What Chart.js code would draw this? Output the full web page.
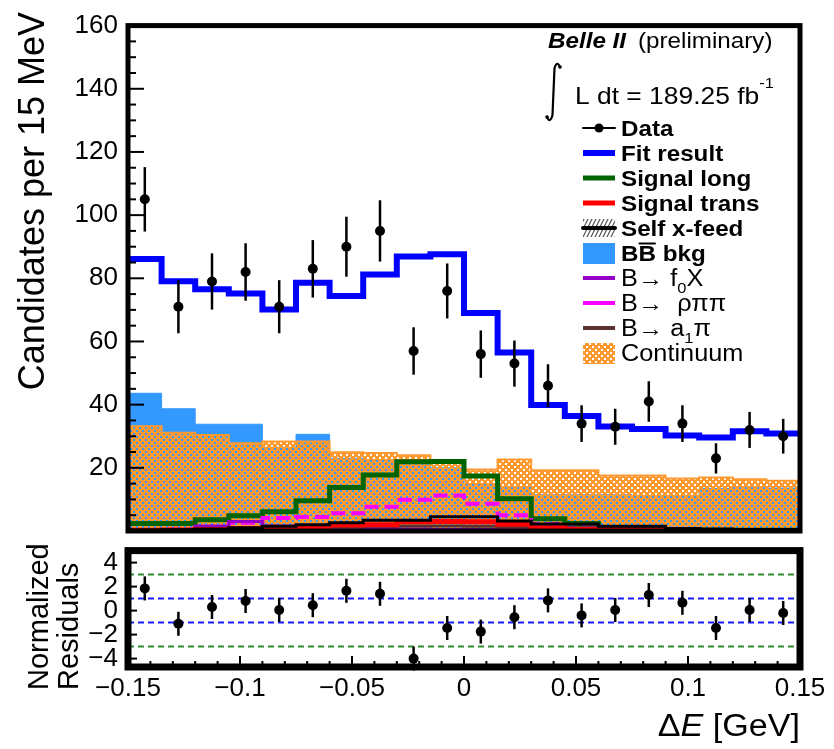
<!DOCTYPE html>
<html>
<head>
<meta charset="utf-8">
<script src="https://cdn.jsdelivr.net/npm/chart.js@4.4.0/dist/chart.umd.min.js"></script>
<style>
  html, body { margin: 0; padding: 0; background: #fff; }
  #wrap { position: relative; width: 834px; height: 749px; overflow: hidden; background: #fff; }
  #wrap canvas { position: absolute; left: 0; }
  #main { top: 0; }
  #resid { top: 525px; }
</style>
</head>
<body>
<div id="wrap">
  <canvas id="main" width="834" height="560"></canvas>
  <canvas id="resid" width="834" height="224"></canvas>
</div>
<script>
// ΔE bins (GeV), 15 MeV wide
const binCenters = [-0.1425, -0.1275, -0.1125, -0.0975, -0.0825, -0.0675, -0.0525, -0.0375, -0.0225, -0.0075,
                     0.0075,  0.0225,  0.0375,  0.0525,  0.0675,  0.0825,  0.0975,  0.1125,  0.1275,  0.1425];

// Candidates per bin and their uncertainties
const dataCounts = [105, 71, 79, 82, 71, 83, 90, 95, 57, 76, 56, 53, 46, 34, 33, 41, 34, 23, 32, 30];
const dataErrors = [10.2, 8.4, 8.9, 9.1, 8.4, 9.1, 9.5, 9.7, 7.5, 8.7, 7.5, 7.3, 6.8, 5.8, 5.7, 6.4, 5.8, 4.8, 5.7, 5.5];

// Fit components
const fitResult   = [86.1, 79.1, 76.5, 75.2, 70.1, 78.6, 74.4, 81.2, 86.9, 87.6, 69.0, 56.5, 39.9, 36.4, 33.1, 32.3, 30.2, 29.6, 31.6, 30.9];
const signalLong  = [2.4, 2.4, 3.6, 4.8, 6.1, 9.6, 13.8, 17.7, 21.9, 22.0, 17.4, 10.2, 3.9, 2.4, 0.8, 0.5, 0.3, 0.2, 0.2, 0.2];
const signalTrans = [0.2, 0.3, 0.5, 0.7, 1.0, 1.1, 1.9, 2.0, 2.9, 3.0, 2.9, 2.1, 1.0, 0.5, 0.3, 0.2, 0.2, 0.1, 0.1, 0.1];
const selfXFeed   = [0.3, 0.4, 0.6, 1.0, 1.5, 2.0, 2.6, 3.4, 3.4, 4.5, 4.5, 3.2, 2.2, 2.2, 1.5, 1.5, 0.8, 0.6, 0.5, 0.5];
const bbBkg       = [43.6, 38.7, 33.8, 33.8, 26.5, 30.6, 23.0, 22.5, 21.0, 20.0, 15.0, 13.8, 11.5, 11.5, 11.5, 11.3, 11.3, 13.5, 13.8, 13.6];
const bToF0X      = [0.3, 0.5, 1.6, 3.0, 1.6, 1.4, 1.2, 0.8, 0.6, 0.5, 0.5, 0.4, 0.3, 0.3, 0.3, 0.3, 0.3, 0.3, 0.3, 0.3];
const bToRhoPiPi  = [0.3, 0.5, 1.0, 2.6, 4.1, 4.4, 5.6, 7.7, 9.9, 11.2, 8.6, 5.0, 2.2, 1.0, 0.5, 0.3, 0.2, 0.2, 0.2, 0.2];
const bToA1Pi     = [0.4, 0.5, 0.6, 0.8, 1.0, 1.1, 1.3, 1.5, 1.6, 1.6, 1.5, 1.3, 1.1, 1.0, 0.8, 0.7, 0.6, 0.5, 0.5, 0.4];
const continuum   = [33.2, 31.1, 30.4, 27.8, 28.3, 28.3, 24.9, 24.7, 24.0, 22.0, 19.5, 22.6, 19.2, 19.2, 17.6, 17.6, 16.6, 16.9, 16.4, 15.9];

// Normalized residuals
const residuals      = [1.85, -1.1, 0.3, 0.8, 0.05, 0.45, 1.65, 1.4, -4.0, -1.45, -1.75, -0.55, 0.85, -0.4, 0.05, 1.3, 0.65, -1.45, 0.05, -0.2];
const residualErrors = [1, 1, 1, 1, 1, 1, 1, 1, 1, 1, 1, 1, 1, 1, 1, 1, 1, 1, 1, 1];
const oneSigmaLevels   = [-1, 1];
const threeSigmaLevels = [-3, 3];

// Axis ticks
const mainYTicks  = [20, 40, 60, 80, 100, 120, 140, 160];
const residYTicks = [-4, -2, 0, 2, 4];
const residXTicks = [-0.15, -0.1, -0.05, 0, 0.05, 0.1, 0.15];

const FONT = '"Liberation Sans", Arial, Helvetica, sans-serif';
const SX = 1.1;   // horizontal text stretch for annotation text

const COL = {
  fit: '#0000ff', sigLong: '#006400', sigTrans: '#ff0000', selfX: '#000000',
  bb: '#3399ff', f0x: '#9400c8', rho: '#ff00ff', a1: '#5c3030', cont: '#ff9a30'
};

// Dotted orange fill used for the continuum component
function makeContinuumPattern(ctx) {
  const c = document.createElement('canvas');
  c.width = 6; c.height = 6;
  const g = c.getContext('2d');
  g.fillStyle = COL.cont;
  g.fillRect(0, 0, 6, 6);
  g.clearRect(1, 1, 2, 2);
  g.clearRect(4, 4, 2, 2);
  return ctx.createPattern(c, 'repeat');
}
const mainCtx = document.getElementById('main').getContext('2d');
const contPattern = makeContinuumPattern(mainCtx);

// Step-histogram points: each value spans its bin to the right edge
function histPoints(values) {
  const half = (binCenters[1] - binCenters[0]) / 2;
  const pts = values.map((v, i) => ({ x: binCenters[i] - half, y: v }));
  pts.push({ x: binCenters[binCenters.length - 1] + half, y: values[values.length - 1] });
  return pts;
}
function hist(label, values, extra) {
  return Object.assign({
    label, data: histPoints(values), stepped: true, pointRadius: 0, fill: false,
    borderJoinStyle: 'miter', borderCapStyle: 'butt'
  }, extra);
}
function pointsOf(values) {
  return values.map((v, i) => ({ x: binCenters[i], y: v }));
}

// Text helpers
function textRun(ctx, x, y, parts) {
  let cx = x;
  for (const p of parts) {
    ctx.save();
    ctx.font = `${p.style || ''} ${p.size}px ${FONT}`;
    ctx.textBaseline = 'alphabetic';
    ctx.textAlign = 'left';
    const w = ctx.measureText(p.t).width * SX;
    ctx.fillStyle = '#000';
    ctx.translate(cx, y + (p.dy || 0));
    ctx.scale(SX, 1);
    ctx.fillText(p.t, 0, 0);
    ctx.restore();
    if (p.over) {
      ctx.save();
      ctx.strokeStyle = '#000'; ctx.lineWidth = 2;
      ctx.beginPath();
      ctx.moveTo(cx + 1, y - p.size * 0.8);
      ctx.lineTo(cx + w - 1, y - p.size * 0.8);
      ctx.stroke();
      ctx.restore();
    }
    cx += w + (p.gap || 0);
  }
  return cx;
}
function textWidth(ctx, parts) {
  let w = 0;
  for (const p of parts) {
    ctx.save();
    ctx.font = `${p.style || ''} ${p.size}px ${FONT}`;
    w += ctx.measureText(p.t).width * SX + (p.gap || 0);
    ctx.restore();
  }
  return w;
}

// Error bars for point datasets carrying an `errors` array
const errorBars = {
  id: 'errorBars',
  afterDatasetDraw(chart, args) {
    const ds = chart.data.datasets[args.index];
    if (!ds.errors) return;
    const { ctx, scales: { x, y } } = chart;
    ctx.save();
    ctx.strokeStyle = '#000';
    ctx.lineWidth = 2.5;
    ds.data.forEach((p, i) => {
      const px = x.getPixelForValue(p.x);
      ctx.beginPath();
      ctx.moveTo(px, y.getPixelForValue(p.y - ds.errors[i]));
      ctx.lineTo(px, y.getPixelForValue(p.y + ds.errors[i]));
      ctx.stroke();
    });
    ctx.restore();
  }
};

// Legend entries of the main panel
const legendRows = [
  { sym: 'data',  parts: [{ t: 'Data', size: 22, style: 'bold' }] },
  { sym: 'line', color: COL.fit, w: 6, parts: [{ t: 'Fit result', size: 22, style: 'bold' }] },
  { sym: 'line', color: COL.sigLong, w: 5, parts: [{ t: 'Signal long', size: 22, style: 'bold' }] },
  { sym: 'line', color: COL.sigTrans, w: 5, parts: [{ t: 'Signal trans', size: 22, style: 'bold' }] },
  { sym: 'hatch', parts: [{ t: 'Self x-feed', size: 22, style: 'bold' }] },
  { sym: 'box', color: COL.bb, parts: [{ t: 'B', size: 22, style: 'bold' }, { t: 'B', size: 22, style: 'bold', over: true }, { t: ' bkg', size: 22, style: 'bold' }] },
  { sym: 'line', color: COL.f0x, w: 4, parts: [{ t: 'B\u2192 f', size: 23 }, { t: '0', size: 15, dy: 7 }, { t: 'X', size: 23 }] },
  { sym: 'line', color: COL.rho, w: 4, parts: [{ t: 'B\u2192  \u03c1\u03c0\u03c0', size: 23 }] },
  { sym: 'line', color: COL.a1, w: 4, parts: [{ t: 'B\u2192 a', size: 23 }, { t: '1', size: 15, dy: 7 }, { t: '\u03c0', size: 23 }] },
  { sym: 'pattern', parts: [{ t: 'Continuum', size: 23 }] }
];

const mainDecor = {
  id: 'mainDecor',
  afterDraw(chart) {
    const { ctx, chartArea: a, scales: { y } } = chart;
    ctx.save();
    // inward ticks on the vertical axis
    ctx.strokeStyle = '#000';
    ctx.lineWidth = 2;
    for (let v = 5; v < 160; v += 5) {
      const py = y.getPixelForValue(v);
      const len = v % 20 === 0 ? 16 : 8;
      ctx.beginPath();
      ctx.moveTo(a.left, py);
      ctx.lineTo(a.left + len, py);
      ctx.stroke();
    }
    // frame
    ctx.lineWidth = 5;
    ctx.strokeRect(a.left, a.top, a.right - a.left, a.bottom - a.top);

    // experiment label
    textRun(ctx, 548, 48, [{ t: 'Belle II', size: 22, style: 'italic bold', gap: 12 }, { t: '(preliminary)', size: 22 }]);

    // integrated luminosity
    ctx.lineWidth = 2.2;
    ctx.lineCap = 'round';
    ctx.beginPath();
    ctx.moveTo(560, 67);
    ctx.quadraticCurveTo(557, 60, 554.5, 68);
    ctx.lineTo(552.5, 115);
    ctx.quadraticCurveTo(550, 124, 547, 117);
    ctx.stroke();
    ctx.beginPath(); ctx.arc(560, 67, 1.8, 0, Math.PI * 2); ctx.fill();
    ctx.beginPath(); ctx.arc(547, 117, 1.8, 0, Math.PI * 2); ctx.fill();
    const endX = textRun(ctx, 575, 104, [{ t: 'L dt = 189.25 fb', size: 24 }]);
    textRun(ctx, endX, 88, [{ t: '-1', size: 15 }]);

    // legend
    const sx0 = 583, sx1 = 615, tx = 621;
    legendRows.forEach((row, i) => {
      const cy = 128 + i * 25;
      ctx.save();
      if (row.sym === 'data') {
        ctx.strokeStyle = '#000'; ctx.lineWidth = 2;
        ctx.beginPath(); ctx.moveTo(sx0, cy); ctx.lineTo(sx1, cy); ctx.stroke();
        ctx.fillStyle = '#000';
        ctx.beginPath(); ctx.arc((sx0 + sx1) / 2, cy, 4.5, 0, Math.PI * 2); ctx.fill();
      } else if (row.sym === 'line') {
        ctx.strokeStyle = row.color; ctx.lineWidth = row.w; ctx.lineCap = 'butt';
        ctx.beginPath(); ctx.moveTo(sx0, cy); ctx.lineTo(sx1, cy); ctx.stroke();
      } else if (row.sym === 'box') {
        ctx.fillStyle = row.color;
        ctx.fillRect(sx0, cy - 10, sx1 - sx0, 21);
      } else if (row.sym === 'pattern') {
        ctx.fillStyle = contPattern;
        ctx.fillRect(sx0, cy - 10, sx1 - sx0, 21);
      } else if (row.sym === 'hatch') {
        ctx.save();
        ctx.beginPath(); ctx.rect(sx0, cy - 9, sx1 - sx0, 18); ctx.clip();
        ctx.strokeStyle = '#555'; ctx.lineWidth = 1.2;
        for (let k = -20; k < 40; k += 4) {
          ctx.beginPath(); ctx.moveTo(sx0 + k, cy + 9); ctx.lineTo(sx0 + k + 9, cy - 9); ctx.stroke();
        }
        ctx.restore();
        ctx.strokeStyle = '#000'; ctx.lineWidth = 4;
        ctx.beginPath(); ctx.moveTo(sx0, cy); ctx.lineTo(sx1, cy); ctx.stroke();
      }
      ctx.restore();
      textRun(ctx, tx, cy + 8, row.parts);
    });

    // vertical axis title
    ctx.save();
    ctx.translate(44, 12);
    ctx.rotate(-Math.PI / 2);
    ctx.font = `36px ${FONT}`;
    ctx.fillStyle = '#000';
    ctx.textAlign = 'right';
    ctx.textBaseline = 'alphabetic';
    ctx.fillText('Candidates per 15 MeV', 0, 0);
    ctx.restore();
    ctx.restore();
  }
};

const residDecor = {
  id: 'residDecor',
  afterDraw(chart) {
    const { ctx, chartArea: a, scales: { x, y } } = chart;
    ctx.save();
    ctx.strokeStyle = '#000';
    ctx.lineWidth = 2;
    residYTicks.forEach(v => {
      const py = y.getPixelForValue(v);
      ctx.beginPath(); ctx.moveTo(a.left, py); ctx.lineTo(a.left + 9, py); ctx.stroke();
    });
    for (let k = -14; k <= 14; k++) {
      const v = k / 100;
      const px = x.getPixelForValue(v);
      const len = k % 5 === 0 ? 11 : 6;
      ctx.beginPath(); ctx.moveTo(px, a.bottom); ctx.lineTo(px, a.bottom - len); ctx.stroke();
    }
    ctx.lineWidth = 7;
    ctx.strokeRect(a.left, a.top, a.right - a.left, a.bottom - a.top);

    // axis titles
    ctx.fillStyle = '#000';
    ctx.textBaseline = 'alphabetic';
    ctx.textAlign = 'left';
    ctx.font = `29px ${FONT}`;
    const baseY = 690 - 525;
    [['Normalized', 48], ['Residuals', 78]].forEach(([t, bx]) => {
      ctx.save();
      ctx.translate(bx, baseY);
      ctx.rotate(-Math.PI / 2);
      ctx.fillText(t, 0, 0);
      ctx.restore();
    });

    const parts = [{ t: '\u0394', size: 31 }, { t: 'E', size: 31, style: 'italic' }, { t: ' [GeV]', size: 31 }];
    const w = textWidth(ctx, parts);
    textRun(ctx, 800 - w, 736 - 525, parts);
    ctx.restore();
  }
};

const baseOptions = {
  responsive: false,
  animation: false,
  events: [],
  plugins: { legend: { display: false }, tooltip: { enabled: false } }
};

new Chart(mainCtx, {
  type: 'line',
  data: {
    datasets: [
      { label: 'Data', data: pointsOf(dataCounts), errors: dataErrors, showLine: false,
        pointRadius: 5, pointBackgroundColor: '#000', pointBorderColor: '#000', pointBorderWidth: 0, order: 0 },
      hist('Fit result', fitResult, { borderColor: COL.fit, borderWidth: 6, order: 1 }),
      hist('Self x-feed', selfXFeed, { borderColor: COL.selfX, borderWidth: 3, order: 2 }),
      hist('Signal trans', signalTrans, { borderColor: COL.sigTrans, borderWidth: 5, order: 3 }),
      hist('B\u2192 a1\u03c0', bToA1Pi, { borderColor: COL.a1, borderWidth: 3, order: 4 }),
      hist('B\u2192 f0X', bToF0X, { borderColor: COL.f0x, borderWidth: 3, order: 5 }),
      hist('B\u2192 \u03c1\u03c0\u03c0', bToRhoPiPi, { borderColor: COL.rho, borderWidth: 4, borderDash: [14, 6], order: 6 }),
      hist('Signal long', signalLong, { borderColor: COL.sigLong, borderWidth: 5, order: 7 }),
      hist('Continuum', continuum, { borderColor: COL.cont, borderWidth: 2, backgroundColor: contPattern, fill: 'origin', order: 10 }),
      hist('BB bkg', bbBkg, { borderColor: COL.bb, borderWidth: 1, backgroundColor: COL.bb, fill: 'origin', order: 11 })
    ]
  },
  options: Object.assign({}, baseOptions, {
    layout: { padding: { left: 0, right: 34, top: 19, bottom: 29 } },
    scales: {
      x: { type: 'linear', min: -0.15, max: 0.15, display: false },
      y: {
        type: 'linear', min: 0, max: 160,
        afterBuildTicks: s => { s.ticks = mainYTicks.map(v => ({ value: v })); },
        afterFit: s => { s.width = 128; },
        grid: { display: false, drawTicks: false },
        border: { display: false },
        ticks: { font: { family: FONT, size: 26 }, color: '#000', padding: 10, autoSkip: false, callback: v => String(v) }
      }
    }
  }),
  plugins: [errorBars, mainDecor]
});

const fmtX = v => (Math.abs(v) < 1e-9 ? '0' : (v < 0 ? '\u2212' : '') + String(Math.abs(v)));
const levelLine = (lv, color) => ({
  data: [{ x: residXTicks[0], y: lv }, { x: residXTicks[residXTicks.length - 1], y: lv }],
  borderColor: color, borderWidth: 2, borderDash: [6, 4], pointRadius: 0, fill: false, order: 5
});

new Chart(document.getElementById('resid').getContext('2d'), {
  type: 'line',
  data: {
    datasets: [
      { label: 'Residuals', data: pointsOf(residuals), errors: residualErrors, showLine: false,
        pointRadius: 5, pointBackgroundColor: '#000', pointBorderColor: '#000', pointBorderWidth: 0, order: 0 },
      ...threeSigmaLevels.map(lv => levelLine(lv, '#2e8b2e')),
      ...oneSigmaLevels.map(lv => levelLine(lv, '#1a1aff'))
    ]
  },
  options: Object.assign({}, baseOptions, {
    layout: { padding: { left: 0, right: 34, top: 20, bottom: 0 } },
    scales: {
      x: {
        type: 'linear', min: -0.15, max: 0.15,
        afterBuildTicks: s => { s.ticks = residXTicks.map(v => ({ value: v })); },
        afterFit: s => { s.height = 82; },
        grid: { display: false, drawTicks: false },
        border: { display: false },
        ticks: { font: { family: FONT, size: 26 }, color: '#000', padding: 6, maxRotation: 0, autoSkip: false, callback: v => fmtX(v) }
      },
      y: {
        type: 'linear', min: -4.7, max: 5,
        afterBuildTicks: s => { s.ticks = residYTicks.map(v => ({ value: v })); },
        afterFit: s => { s.width = 128; },
        grid: { display: false, drawTicks: false },
        border: { display: false },
        ticks: { font: { family: FONT, size: 26 }, color: '#000', padding: 10, autoSkip: false, callback: v => fmtX(v) }
      }
    }
  }),
  plugins: [errorBars, residDecor]
});
</script>
</body>
</html>
